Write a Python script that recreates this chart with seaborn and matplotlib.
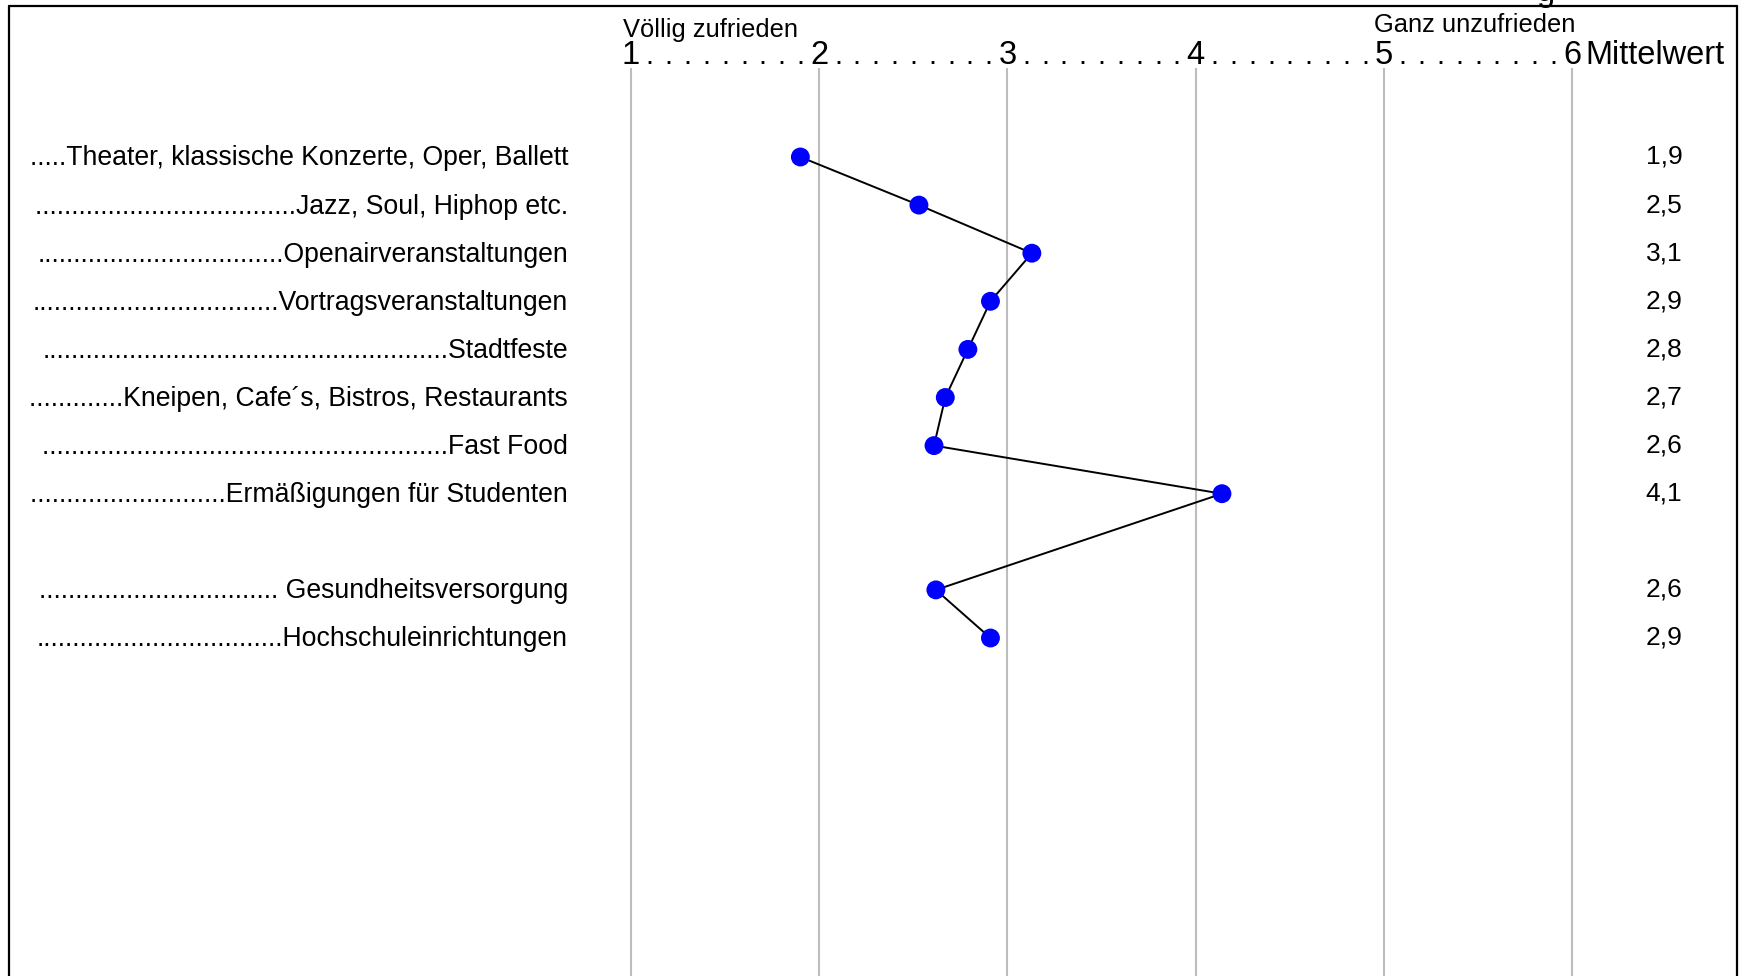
import matplotlib
matplotlib.use("Agg")
import matplotlib.pyplot as plt
import seaborn as sns
import pandas as pd
from matplotlib.lines import Line2D

# ---------------- data ----------------
categories = [
    ".....Theater, klassische Konzerte, Oper, Ballett",
    "....................................Jazz, Soul, Hiphop etc.",
    "..................................Openairveranstaltungen",
    "..................................Vortragsveranstaltungen",
    "........................................................Stadtfeste",
    ".............Kneipen, Cafe´s, Bistros, Restaurants",
    "........................................................Fast Food",
    "...........................Ermäßigungen für Studenten",
    "................................. Gesundheitsversorgung",
    "..................................Hochschuleinrichtungen",
]
rows = [0, 1, 2, 3, 4, 5, 6, 7, 9, 10]
means = [1.90, 2.53, 3.13, 2.91, 2.79, 2.67, 2.61, 4.14, 2.62, 2.91]
mean_labels = ["1,9", "2,5", "3,1", "2,9", "2,8", "2,7", "2,6", "4,1", "2,6", "2,9"]
scale_ticks = [1, 2, 3, 4, 5, 6]
left_anchor = "Völlig zufrieden"
right_anchor = "Ganz unzufrieden"
value_header = "Mittelwert"

df = pd.DataFrame({"kategorie": categories, "row": rows, "mittelwert": means})

# ---------------- layout ----------------
W, H = 1741, 976
sns.set_theme(style="white")
plt.rcParams["font.family"] = ["Liberation Sans", "DejaVu Sans"]

fig = plt.figure(figsize=(W / 100, H / 100), dpi=100)
ax = fig.add_axes([0, 0, 1, 1])
px1, px6 = 631, 1572
ppu = (px6 - px1) / 5.0
x0 = 1 - px1 / ppu
x1 = x0 + W / ppu
row0, rowh = 157.0, 48.1


def dx(px):
    return x0 + px / ppu


def dy(py):
    return (py - row0) / rowh


# vertical grid lines
ax.vlines(scale_ticks, dy(68), dy(H + 5), colors="#bdbdbd", linewidth=1.5, zorder=1)

# connecting line and points
sns.lineplot(data=df, x="mittelwert", y="row", sort=False, estimator=None,
             color="black", linewidth=1.4, ax=ax, zorder=2, legend=False)
sns.scatterplot(data=df, x="mittelwert", y="row", color="#0000ff", s=185,
                edgecolor="none", ax=ax, zorder=3, legend=False)
ax.set_xlim(x0, x1)
ax.set_ylim((H - row0) / rowh, -row0 / rowh)
ax.axis("off")

# category labels
for lab, r in zip(categories, rows):
    ax.text(dx(568), r + 0.03, lab, ha="right", va="center", fontsize=19.2, color="black")

# mean values
for lab, r in zip(mean_labels, rows):
    ax.text(dx(1664), r, lab, ha="center", va="center", fontsize=19, color="black")

# scale header
for t in scale_ticks:
    ax.text(t, dy(64), str(t), ha="center", va="baseline", fontsize=23.5,
            color="black")
    if t < scale_ticks[-1]:
        for k in range(1, 10):
            ax.text(t + k / 10.0, dy(64), ".", ha="center", va="baseline",
                    fontsize=21, color="black")
ax.text(dx(1585), dy(64), value_header, ha="left", va="baseline", fontsize=23.5,
        color="black")
ax.text(dx(623), dy(37.5), left_anchor, ha="left", va="baseline", fontsize=18.4,
        color="black")
ax.text(dx(1575), dy(32), right_anchor, ha="right", va="baseline", fontsize=18.4,
        color="black")
# cut-off letter from the title above the frame
ax.text(dx(1546), dy(1), "g", ha="center", va="baseline", fontsize=23.5,
        color="black")

# frame
lw = 1.6
fig.add_artist(Line2D([9 / W, 9 / W], [0, 1 - 6 / H], transform=fig.transFigure,
                      color="black", linewidth=lw))
fig.add_artist(Line2D([9 / W, 1737 / W], [1 - 6 / H, 1 - 6 / H], transform=fig.transFigure,
                      color="black", linewidth=lw))
fig.add_artist(Line2D([1737 / W, 1737 / W], [0, 1 - 6 / H], transform=fig.transFigure,
                      color="black", linewidth=lw))

fig.savefig("out.png", dpi=100, facecolor="white")
